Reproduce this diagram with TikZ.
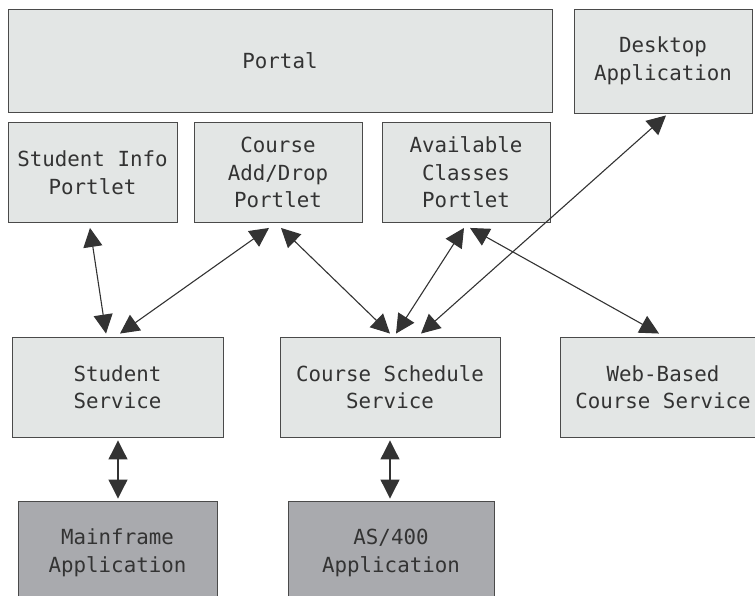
\documentclass[tikz,border=0pt]{standalone}
\usepackage{fontspec}
\setmonofont{DejaVu Sans Mono}
\usetikzlibrary{arrows.meta}
\definecolor{boxlight}{HTML}{E3E6E5}
\definecolor{boxdark}{HTML}{A9AAAE}
\definecolor{edge}{HTML}{4A4A4A}
\definecolor{ink}{HTML}{333333}
\tikzset{
  box/.style={draw=edge, line width=0.9pt, fill=boxlight, text=ink,
    align=center, inner sep=0pt,
    font=\ttfamily\fontsize{20.8}{27.5}\selectfont},
  legacy/.style={box, fill=boxdark},
  bighead/.tip={Triangle[length=19pt,width=19pt]},
  link/.style={draw=ink, line width=1.1pt, bighead-bighead}
}
\begin{document}
\begin{tikzpicture}[x=1pt,y=-1pt]
\useasboundingbox (0,0) rectangle (755,596);

% top tier: portal and desktop client
\node[box, minimum width=544pt, minimum height=103pt] (portal) at (280,60.5) {Portal};
\node[box, minimum width=178pt, minimum height=104pt] (desk) at (663,61) {Desktop\\Application};

% portlets
\node[box, minimum width=169pt, minimum height=100pt] (sinfo) at (92.5,172.5) {Student Info\\Portlet};
\node[box, minimum width=168pt, minimum height=100pt] (adddrop) at (278,172.5) {Course\\Add/Drop\\Portlet};
\node[box, minimum width=168pt, minimum height=100pt] (avail) at (466,172.5) {Available\\Classes\\Portlet};

% services
\node[box, minimum width=211pt, minimum height=100pt] (sserv) at (117.5,387) {Student\\Service};
\node[box, minimum width=220pt, minimum height=100pt] (csched) at (390,387) {Course Schedule\\Service};
\node[box, minimum width=206pt, minimum height=100pt] (web) at (663,387) {Web-Based\\Course Service};

% back-end systems
\node[legacy, minimum width=199pt, minimum height=104pt] (mainframe) at (117.5,553) {Mainframe\\Application};
\node[legacy, minimum width=206pt, minimum height=104pt] (as400) at (391,553) {AS/400\\Application};

% connectors
\draw[link] ([xshift=-2.5pt,yshift=-5pt]sinfo.south) -- ([xshift=-11.5pt,yshift=3pt]sserv.north);
\draw[link] ([xshift=-9pt,yshift=-5pt]adddrop.south) -- ([xshift=2.5pt,yshift=3pt]sserv.north);
\draw[link] ([xshift=3pt,yshift=-5pt]adddrop.south) -- ([xshift=0pt,yshift=3pt]csched.north);
\draw[link] ([xshift=-2pt,yshift=-5pt]avail.south) -- ([xshift=6pt,yshift=3pt]csched.north);
\draw[link] ([xshift=3pt,yshift=-2pt]desk.south) -- ([xshift=31pt,yshift=3pt]csched.north);
\draw[link] ([xshift=4pt,yshift=-5pt]avail.south) -- ([xshift=-4pt,yshift=3pt]web.north);
\draw[link] ([xshift=0.5pt,yshift=-3pt]sserv.south) -- ([xshift=0.5pt,yshift=2pt]mainframe.north);
\draw[link] ([yshift=-3pt]csched.south) -- ([xshift=-1pt,yshift=2pt]as400.north);
\end{tikzpicture}
\end{document}
